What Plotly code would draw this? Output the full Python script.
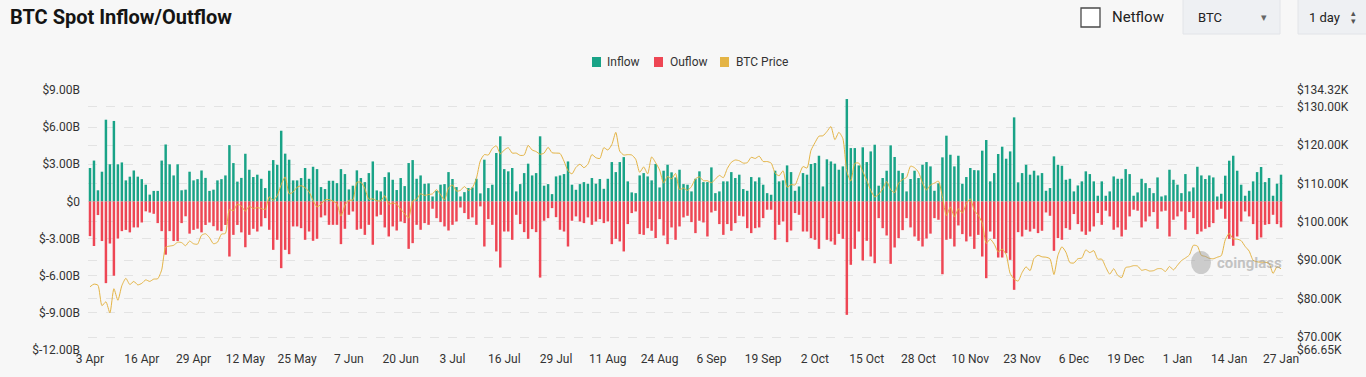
import pandas as pd
import plotly.graph_objects as go

# ---------------- data ----------------
dates = pd.date_range("2025-04-03", "2026-01-27", freq="D")

# Spot inflow (billion USD)
inflow = [
    2.7, 3.3, 0.9, 2.4, 6.6, 3.0, 6.5, 3.0, 3.15, 1.7, 2.0, 2.5, 2.0, 1.8, 1.35, 0.55, 0.85, 0.85, 3.3, 4.6,
    3.0, 2.1, 3.0, 0.9, 0.95, 2.4, 1.7, 1.8, 2.5, 1.9, 0.85, 0.95, 1.7, 1.8, 2.1, 4.55, 3.1, 1.6, 1.9, 3.85,
    2.56, 1.97, 2.16, 1.83, 1.08, 2.48, 3.34, 2.96, 5.71, 3.86, 3.37, 1.70, 1.70, 1.89, 2.70, 1.83, 2.80, 2.61,
    1.16, 1.00, 1.67, 1.67, 1.48, 2.61, 2.21, 0.97, 1.27, 2.51, 1.89, 1.56, 2.29, 3.23, 0.89, 0.81, 1.97, 2.35,
    1.75, 0.92, 1.89, 1.24, 3.10, 3.34, 1.83, 2.10,
    1.43, 1.46, 0.40, 0.86, 1.35, 1.40, 2.37, 1.81, 1.16, 0.40, 0.75, 1.08, 1.13, 1.83, 0.65, 3.37, 1.08, 1.35,
    3.91, 5.26, 2.61, 2.43, 2.70, 0.81, 1.40, 2.29, 3.05, 2.10, 2.29, 5.26, 1.27, 1.40, 0.59, 2.02, 2.10, 2.21,
    3.23, 1.35, 0.94, 1.40, 1.56, 1.43, 1.89,
    1.43, 1.81, 1.02, 1.83, 3.18, 2.37, 3.18, 3.58, 1.62, 0.73, 0.67, 2.10, 2.29, 2.02, 1.70, 3.02, 1.13, 2.48,
    2.96, 2.35, 1.94, 2.56, 1.40, 1.35, 0.81, 1.83, 2.43, 1.56, 1.56, 2.75, 0.67, 0.81, 1.62, 1.62, 2.37, 1.89,
    2.16, 1.00, 0.86, 1.97, 1.62,
    1.94, 1.35, 0.67, 0.54, 2.48, 1.62, 1.70, 2.91, 2.37, 0.86, 1.21, 2.29, 2.16, 3.02, 3.10, 3.69, 1.21, 3.40,
    3.23, 3.05, 2.56, 2.83, 8.27, 4.31, 4.31, 2.91, 4.37, 3.18, 4.04, 4.58, 1.27, 1.89, 2.48, 4.53, 3.59, 2.48,
    2.29, 0.81, 1.81, 2.48, 1.89, 2.96,
    3.18, 2.83, 0.86, 1.46, 3.56, 5.31, 3.77, 2.83, 3.69, 1.43, 1.97, 2.70, 2.53, 2.51, 4.10, 4.96, 1.62, 2.29,
    3.83, 4.42, 3.45, 4.04, 6.79, 1.54, 2.29, 2.96, 2.16, 2.48, 2.10, 2.29, 0.86, 1.08, 3.64, 2.96, 2.88, 1.75,
    1.83, 0.81, 1.29, 1.62, 2.43, 2.21, 1.62, 0.46,
    1.62, 0.46, 0.81, 2.02, 1.83, 1.83, 2.61, 2.21, 0.46, 0.73, 1.83, 1.48, 1.08, 0.67, 1.94, 0.40, 0.49, 2.56,
    1.75, 1.35, 0.67, 2.21, 0.81, 1.13, 2.80, 2.10, 1.81, 2.10, 1.94, 0.40, 0.62, 2.08, 3.29, 3.69, 2.48, 1.35,
    0.46, 0.86, 1.62, 2.37, 2.78, 1.56, 1.89, 0.46, 1.43, 2.16,
]

# Spot outflow (billion USD, magnitude)
outflow = [
    2.8, 3.6, 1.1, 3.2, 6.6, 3.4, 6.0, 3.0, 2.4, 2.3, 2.5, 2.1, 2.1, 1.7, 0.8, 0.9, 1.0, 1.75, 2.4, 4.3,
    2.4, 3.2, 3.2, 1.75, 1.2, 2.6, 2.3, 2.2, 2.5, 1.9, 1.7, 2.0, 2.35, 2.4, 1.9, 4.45, 2.7, 1.9, 2.5, 3.7,
    2.70, 2.21, 2.43, 2.02, 1.35, 2.29, 3.91, 3.10, 5.39, 3.91, 4.26, 2.02, 2.02, 2.16, 3.10, 2.43, 3.18, 3.02,
    1.29, 1.13, 1.89, 1.89, 1.89, 3.45, 2.21, 1.08, 0.81, 2.29, 2.21, 2.70, 1.89, 3.50, 1.21, 1.08, 2.10, 2.83,
    2.02, 2.35, 1.62, 1.75, 3.83, 3.37, 1.89, 2.29,
    1.75, 1.89, 0.59, 1.35, 1.67, 2.02, 2.35, 1.89, 1.62, 0.49, 0.94, 1.43, 1.29, 1.89, 0.40, 3.64, 1.43, 1.89,
    4.04, 5.34, 2.43, 2.43, 3.10, 1.08, 1.83, 2.48, 3.02, 2.24, 2.48, 6.15, 1.56, 1.35, 0.54, 1.27, 2.29, 2.43,
    3.64, 1.56, 1.21, 1.62, 1.75, 1.29, 1.89,
    1.62, 1.43, 1.75, 1.62, 3.45, 3.02, 3.23, 4.04, 1.83, 0.94, 0.81, 2.64, 2.70, 2.16, 2.37, 2.96, 1.43, 2.75,
    3.45, 2.10, 3.10, 2.02, 1.29, 1.16, 1.67, 2.56, 1.56, 1.70, 2.83, 0.89, 0.76, 1.83, 2.70, 1.83, 2.37, 1.75,
    1.16, 1.21, 2.16, 2.56, 2.16,
    2.10, 1.35, 0.67, 0.67, 3.10, 1.89, 1.62, 3.29, 2.35, 0.94, 1.08, 2.43, 2.43, 2.96, 3.10, 3.83, 1.35, 3.10,
    3.23, 3.50, 2.62, 3.02, 9.16, 5.12, 3.83, 2.43, 4.77, 3.18, 4.45, 4.99, 1.35, 2.16, 2.75, 5.04, 3.72, 2.96,
    2.32, 1.35, 2.10, 2.83, 3.18, 3.64,
    3.0, 2.6, 1.35, 1.48, 5.88, 3.10, 3.02, 3.64, 1.94, 2.64, 3.23, 2.83, 3.83, 2.70, 4.45, 6.20, 2.43, 3.02,
    4.53, 4.53, 4.18, 4.72, 7.14, 2.48, 2.83, 2.29, 2.43, 2.21, 2.56, 2.37, 0.89, 1.16, 3.99, 2.96, 3.10, 2.16,
    2.29, 1.02, 1.83, 2.43, 2.70, 2.43, 2.02, 0.94,
    1.89, 0.75, 1.21, 2.29, 2.10, 2.83, 2.29, 1.21, 0.67, 0.75, 2.10, 1.62, 1.21, 0.86, 2.21, 0.81, 0.75, 2.83,
    1.48, 1.21, 0.81, 2.29, 0.86, 1.35, 2.64, 2.43, 2.21, 2.08, 1.75, 0.67, 0.59, 1.40, 3.02, 3.58, 2.83, 1.62,
    0.81, 1.21, 1.83, 3.10, 2.91, 1.89, 1.83, 1.08, 1.83, 2.10,
]

# BTC price (thousand USD)
price = [
    # Apr 3-30
    83.1, 83.8, 83.5, 78.2, 79.2, 76.3, 82.6, 79.6, 83.4, 85.3, 83.7, 84.5, 83.6, 84.0, 84.9, 84.5, 85.1, 85.2,
    87.5, 93.4, 93.7, 93.9, 94.7, 94.6, 93.8, 95.0, 94.3, 94.2,
    # May
    96.5, 96.9, 95.9, 94.3, 94.7, 96.8, 97.0, 103.2, 102.9, 104.6, 104.1, 102.8, 104.1, 103.5, 103.7, 103.5,
    103.2, 106.5, 105.6, 106.8, 109.7, 111.7, 107.3, 107.8, 109.0, 109.4, 108.9, 107.8, 105.6, 103.9, 104.6,
    # Jun
    105.7, 105.8, 105.4, 104.7, 101.5, 104.3, 105.6, 105.7, 110.3, 110.3, 108.7, 105.9, 106.0, 105.5, 105.5,
    106.8, 104.6, 104.9, 104.6, 103.3, 102.1, 101.0, 105.4, 105.9, 107.3, 106.9, 107.1, 107.3, 108.4, 107.1,
    # Jul
    105.7, 108.8, 109.6, 108.0, 108.2, 109.2, 108.2, 108.9, 111.3, 115.9, 117.5, 117.4, 119.1, 119.8, 117.7,
    118.7, 119.3, 117.9, 117.9, 117.3, 117.4, 119.9, 118.7, 118.3, 117.6, 117.9, 119.4, 118.0, 117.9, 117.8, 115.8,
    # Aug
    113.3, 112.5, 114.2, 115.0, 114.1, 115.0, 117.5, 116.7, 116.5, 119.3, 118.7, 120.1, 123.3, 118.4, 117.4,
    117.5, 117.4, 116.3, 112.9, 114.3, 112.5, 116.9, 115.4, 113.5, 110.1, 111.8, 111.2, 112.6, 108.4, 108.8, 108.2,
    # Sep
    109.2, 111.2, 111.7, 110.7, 110.7, 110.2, 111.1, 112.1, 111.5, 113.9, 115.5, 116.1, 115.9, 115.3, 115.4,
    116.8, 116.5, 117.1, 115.7, 115.7, 115.3, 112.7, 112.0, 113.3, 109.0, 109.7, 109.6, 112.1, 114.4, 114.0,
    # Oct
    118.6, 120.6, 122.3, 122.4, 123.5, 124.8, 121.4, 123.3, 121.7, 113.2, 110.6, 115.2, 115.3, 113.1, 110.8,
    108.2, 106.5, 107.2, 108.6, 110.5, 108.4, 107.6, 110.1, 111.0, 111.6, 114.5, 114.1, 112.9, 110.1, 108.3, 109.6,
    # Nov
    110.1, 110.6, 106.5, 101.6, 103.9, 101.3, 103.4, 102.3, 104.7, 106.0, 103.0, 101.7, 99.7, 94.4, 95.5,
    94.2, 92.2, 92.9, 91.5, 86.6, 85.1, 84.6, 86.8, 88.3, 87.3, 90.5, 91.3, 90.9, 90.8, 90.4,
    # Dec
    86.3, 91.3, 93.5, 92.1, 89.4, 89.3, 90.4, 90.6, 92.7, 92.0, 92.5, 90.3, 90.3, 88.2, 86.4, 87.8, 86.1,
    85.5, 88.1, 88.3, 88.6, 88.5, 87.4, 87.6, 87.2, 87.3, 87.8, 87.8, 87.1, 88.4, 87.5,
    # Jan
    88.7, 89.9, 90.6, 91.4, 93.9, 93.7, 91.3, 91.0, 90.5, 90.4, 90.8, 91.2, 95.3, 97.0, 95.6, 95.5, 95.1,
    93.6, 92.4, 90.0, 89.6, 89.5, 89.5, 89.2, 86.6, 88.3, 87.8,
]

assert len(inflow) == len(dates) == len(outflow) == len(price) == 300

left_ticks = [-12, -9, -6, -3, 0, 3, 6, 9]
left_labels = ["$-12.00B", "$-9.00B", "$-6.00B", "$-3.00B", "$0", "$3.00B", "$6.00B", "$9.00B"]
right_ticks = [66.65, 70, 80, 90, 100, 110, 120, 130, 134.32]
right_labels = ["$66.65K", "$70.00K", "$80.00K", "$90.00K", "$100.00K", "$110.00K",
                "$120.00K", "$130.00K", "$134.32K"]
tick_dates = dates[::13]
tick_labels = [f"{d.day} {d.strftime('%b')}" for d in tick_dates]

# ---------------- styling ----------------
GREEN = "#19a387"
RED = "#ee4654"
GOLD = "#e4b445"
BG = "#f7f7f7"
TXT = "#333333"
FONT = "Roboto, 'Noto Sans', sans-serif"

L, R, T, B = 88, 1283, 90, 350
W, H = 1366, 377


def px(x):
    return (x - L) / (R - L)


def py(y):
    return (B - y) / (B - T)


fig = go.Figure()
fig.add_trace(go.Bar(x=dates, y=inflow, name="Inflow", marker=dict(color=GREEN, line=dict(width=0))))
fig.add_trace(go.Bar(x=dates, y=[-v for v in outflow], name="Ouflow",
                     marker=dict(color=RED, line=dict(width=0))))
fig.add_trace(go.Scatter(x=dates, y=price, name="BTC Price", yaxis="y2", mode="lines",
                         line=dict(color=GOLD, width=1, shape="spline", smoothing=0.6)))

shapes = []
annotations = []

# title
annotations.append(dict(x=px(8), y=py(17), xref="paper", yref="paper", xanchor="left", yanchor="middle",
                        text="<b>BTC Spot Inflow/Outflow</b>", showarrow=False,
                        font=dict(size=20, color="#141414", family=FONT)))

# Netflow checkbox
shapes.append(dict(type="rect", xref="paper", yref="paper", x0=px(1081), x1=px(1100), y0=py(27), y1=py(8),
                   line=dict(color="#4a4a4a", width=1.3), fillcolor="#ffffff"))
annotations.append(dict(x=px(1110), y=py(17), xref="paper", yref="paper", xanchor="left", yanchor="middle",
                        text="Netflow", showarrow=False, font=dict(size=15, color="#222222", family=FONT)))
# BTC dropdown
shapes.append(dict(type="rect", xref="paper", yref="paper", x0=px(1183), x1=px(1280), y0=py(34), y1=py(-2),
                   line=dict(color="#e2e4e8", width=1), fillcolor="#eef0f3"))
annotations.append(dict(x=px(1196), y=py(17), xref="paper", yref="paper", xanchor="left", yanchor="middle",
                        text="BTC", showarrow=False, font=dict(size=13, color="#222222", family=FONT)))
annotations.append(dict(x=px(1264), y=py(17), xref="paper", yref="paper", xanchor="center", yanchor="middle",
                        text="▾", showarrow=False, font=dict(size=11, color="#666666", family="DejaVu Sans")))
# 1 day box
shapes.append(dict(type="rect", xref="paper", yref="paper", x0=px(1298), x1=px(1368), y0=py(34), y1=py(-2),
                   line=dict(color="#e2e4e8", width=1), fillcolor="#eef0f3"))
annotations.append(dict(x=px(1307), y=py(17), xref="paper", yref="paper", xanchor="left", yanchor="middle",
                        text="1 day", showarrow=False, font=dict(size=13, color="#222222", family=FONT)))
annotations.append(dict(x=px(1353), y=py(13), xref="paper", yref="paper", xanchor="center", yanchor="middle",
                        text="▴", showarrow=False, font=dict(size=9, color="#555555", family="DejaVu Sans")))
annotations.append(dict(x=px(1353), y=py(21), xref="paper", yref="paper", xanchor="center", yanchor="middle",
                        text="▾", showarrow=False, font=dict(size=9, color="#555555", family="DejaVu Sans")))

# legend (manual)
legend_items = [("Inflow", GREEN, 592, 605), ("Ouflow", RED, 654, 668), ("BTC Price", GOLD, 720, 734)]
for name, col, sx, tx in legend_items:
    shapes.append(dict(type="rect", xref="paper", yref="paper", x0=px(sx), x1=px(sx + 9), y0=py(67), y1=py(57),
                       line=dict(width=0), fillcolor=col))
    annotations.append(dict(x=px(tx), y=py(62), xref="paper", yref="paper", xanchor="left", yanchor="middle",
                            text=name, showarrow=False, font=dict(size=12, color=TXT, family=FONT)))

# watermark
shapes.append(dict(type="circle", xref="paper", yref="paper", x0=px(1191), x1=px(1211), y0=py(274), y1=py(251),
                   line=dict(width=0), fillcolor="rgba(150,150,150,0.45)"))
annotations.append(dict(x=px(1215), y=py(263), xref="paper", yref="paper", xanchor="left", yanchor="middle",
                        text="<b>coinglass</b>", showarrow=False,
                        font=dict(size=15, color="rgba(150,150,150,0.55)", family=FONT)))

fig.update_layout(
    width=W, height=H,
    autosize=False,
    margin=dict(l=L, r=W - R, t=T, b=H - B, pad=0),
    paper_bgcolor=BG, plot_bgcolor=BG,
    barmode="relative", bargap=0.38,
    showlegend=False,
    hovermode=False,
    font=dict(family=FONT, size=12, color=TXT),
    xaxis=dict(type="date",
               range=[dates[0] - pd.Timedelta(hours=12), dates[-1] + pd.Timedelta(hours=12)],
               tickvals=list(tick_dates), ticktext=tick_labels, showgrid=False, zeroline=False,
               showline=False, ticks="", tickfont=dict(size=12, color=TXT)),
    yaxis=dict(range=[-12, 9], tickvals=left_ticks, ticktext=left_labels, showgrid=True,
               gridcolor="#e3e3e3", griddash="dash", gridwidth=1, zeroline=False, showline=False,
               ticks="", ticklabelstandoff=7, tickfont=dict(size=12, color=TXT)),
    yaxis2=dict(range=[66.65, 134.32], tickvals=right_ticks, ticktext=right_labels, overlaying="y",
                side="right", showgrid=True, gridcolor="#e3e3e3", griddash="dash", gridwidth=1,
                zeroline=False, showline=False, ticks="", ticklabelstandoff=13,
                tickfont=dict(size=12, color=TXT)),
    shapes=shapes,
    annotations=annotations,
)

fig.write_html("out.html", config={"displayModeBar": False},
               post_script="document.body.style.margin='0';document.body.style.overflow='hidden';")
